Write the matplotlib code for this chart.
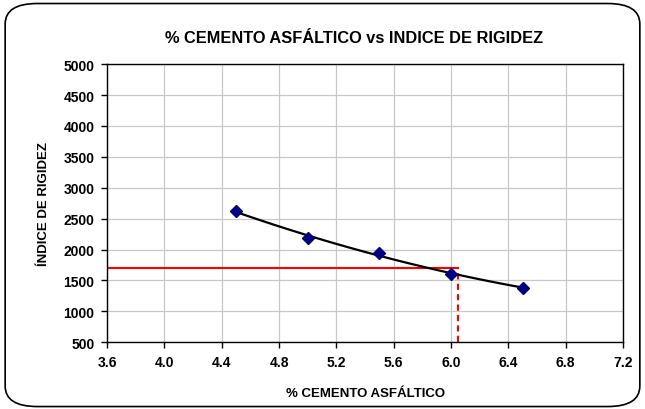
import numpy as np
import matplotlib
matplotlib.use('Agg')
import matplotlib.pyplot as plt
from matplotlib.patches import FancyBboxPatch

plt.rcParams['font.family'] = ['Liberation Sans Narrow', 'Liberation Sans', 'DejaVu Sans']

# datos
cemento = [4.5, 5.0, 5.5, 6.0, 6.5]
rigidez = [2620, 2190, 1940, 1600, 1385]
x_optimo = 6.05
y_optimo = 1700
x_ticks = [3.6, 4.0, 4.4, 4.8, 5.2, 5.6, 6.0, 6.4, 6.8, 7.2]
y_ticks = [500, 1000, 1500, 2000, 2500, 3000, 3500, 4000, 4500, 5000]

fig = plt.figure(figsize=(6.45, 4.1), dpi=100)
fig.patch.set_facecolor('white')

# borde redondeado del area del grafico
borde = FancyBboxPatch((0.008, 0.006), 0.984, 0.983,
                       boxstyle='round,pad=0,rounding_size=0.05',
                       transform=fig.transFigure, fill=False,
                       edgecolor='black', linewidth=1.2)
fig.patches.append(borde)

ax = fig.add_axes([0.166, 0.163, 0.800, 0.678])

# linea de tendencia polinomica
coef = np.polyfit(cemento, rigidez, 2)
xs = np.linspace(cemento[0], cemento[-1], 100)
ax.plot(xs, np.polyval(coef, xs), color='black', linewidth=1.6, zorder=3)
ax.plot(cemento, rigidez, linestyle='none', marker='D', markersize=6.5,
        color='#000080', zorder=4)

# lineas de lectura
ax.plot([x_ticks[0], x_optimo], [y_optimo, y_optimo], color='red', linewidth=1.5, zorder=2)
ax.plot([x_optimo, x_optimo], [y_ticks[0], y_optimo], color='red', linewidth=1.5,
        linestyle=(0, (3, 2)), zorder=2)

ax.set_xlim(x_ticks[0], x_ticks[-1])
ax.set_ylim(y_ticks[0], y_ticks[-1])
ax.set_xticks(x_ticks)
ax.set_yticks(y_ticks)
ax.set_xticklabels(['%.1f' % v for v in x_ticks])
ax.grid(True, color='#c8c8c8', linewidth=0.9)
ax.set_axisbelow(True)
ax.tick_params(direction='out', length=4, width=1, labelsize=10, pad=5)
for lab in ax.get_xticklabels() + ax.get_yticklabels():
    lab.set_fontweight('bold')
for s in ax.spines.values():
    s.set_linewidth(1.0)
    s.set_color('black')

fig.text(0.549, 0.905, '% CEMENTO ASFÁLTICO vs INDICE DE RIGIDEZ',
         ha='center', va='center', fontsize=11.8, fontweight='bold')
ax.set_xlabel('% CEMENTO ASFÁLTICO', fontsize=9.5, fontweight='bold', labelpad=13)
ax.set_ylabel('ÍNDICE DE RIGIDEZ', fontsize=9.5, fontweight='bold', labelpad=10)

fig.savefig('out.png', dpi=100)
